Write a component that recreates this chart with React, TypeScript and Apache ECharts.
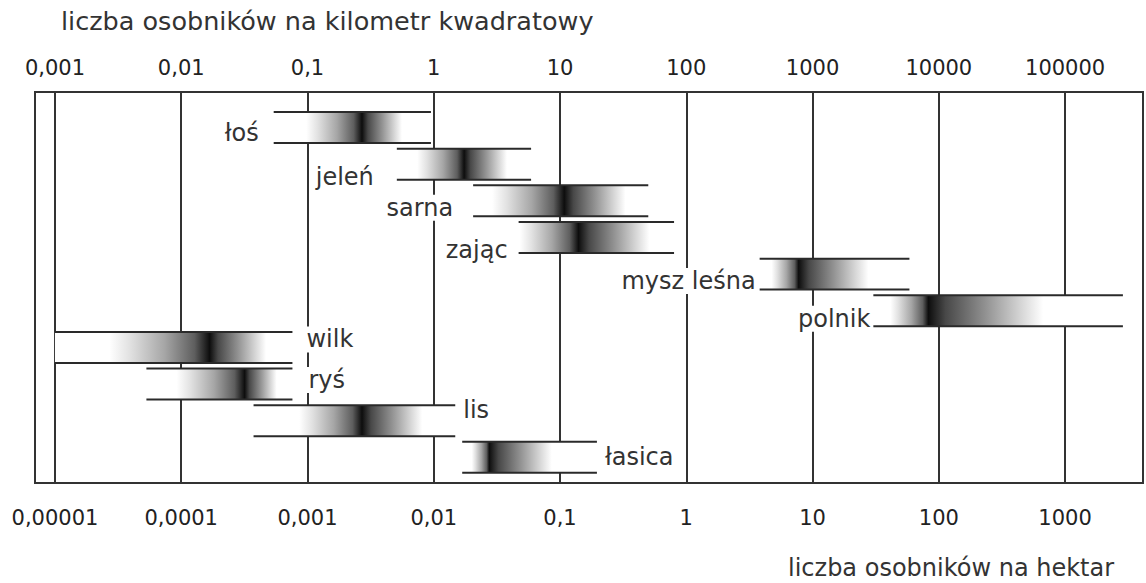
import React, { useEffect, useRef } from "react";
import * as echarts from "echarts";

// Gatunki (kolejność wierszy od góry)
const SPECIES = ["łoś", "jeleń", "sarna", "zając", "mysz leśna", "polnik", "wilk", "ryś", "lis", "łasica"];
// Zakres zagęszczenia (osobniki na km²)
const RANGE_LOW = [0.054, 0.51, 2.05, 4.7, 381, 3030, 0.001, 0.0053, 0.0374, 1.68];
const RANGE_HIGH = [0.95, 5.9, 50, 80, 5850, 287000, 0.076, 0.076, 1.48, 19.6];
// Najczęstsze zagęszczenie (najciemniejsze miejsce)
const PEAK = [0.27, 1.74, 10.8, 14, 775, 8260, 0.0168, 0.0318, 0.27, 2.75];
// Zasięg cieniowania
const SHADE_LOW = [0.098, 0.74, 2.9, 4.8, 474, 4140, 0.0027, 0.0092, 0.086, 2.0];
const SHADE_HIGH = [0.56, 3.8, 33, 51, 2770, 67000, 0.047, 0.057, 0.81, 8.6];

const TOP_TICKS = ["0,001", "0,01", "0,1", "1", "10", "100", "1000", "10000", "100000"];
const BOTTOM_TICKS = ["0,00001", "0,0001", "0,001", "0,01", "0,1", "1", "10", "100", "1000"];
const TOP_TITLE = "liczba osobników na kilometr kwadratowy";
const BOTTOM_TITLE = "liczba osobników na hektar";

// label layout (not data)
const LABEL_SIDE = ["left", "left", "left", "left", "left", "left", "right", "right", "right", "right"];
const LABEL_GAP = [13, 21, 18, 9, 2, 1, 12, 14, 6, 6];
const LABEL_DY = [5, 13, 7, 13, 7, 8, -8, -4, -11, 0];

const FONT = "DejaVu Sans";

export default function App() {
  const ref = useRef<HTMLDivElement>(null);
  useEffect(() => {
    if (!ref.current) return;
    const chart = echarts.init(ref.current, undefined, { renderer: "svg" });
    const data = SPECIES.map((_, i) => [RANGE_LOW[i], RANGE_HIGH[i], PEAK[i], SHADE_LOW[i], SHADE_HIGH[i], i]);

    const topFmt = (v: number) => {
      const l = Math.log10(v);
      const e = Math.round(l);
      if (Math.abs(l - e) > 0.01) return "";
      return TOP_TICKS[e + 3] ?? "";
    };
    const botFmt = (v: number) => {
      const l = Math.log10(v);
      const e = Math.round(l);
      if (Math.abs(l - e) > 0.01) return "";
      return BOTTOM_TICKS[e + 5] ?? "";
    };

    const renderItem = (params: any, api: any) => {
      const i = params.dataIndex;
      const low = api.value(0);
      const high = api.value(1);
      const peak = api.value(2);
      const sL = api.value(3);
      const sH = api.value(4);
      const row = api.value(5);
      const x0 = api.coord([low, row])[0];
      const x1 = api.coord([high, row])[0];
      const yc = api.coord([low, row])[1];
      const yTop = api.coord([low, row - 0.4225])[1];
      const yBot = api.coord([low, row + 0.4225])[1];
      const w = x1 - x0;
      const r = (v: number) => Math.min(1, Math.max(0, (api.coord([v, row])[0] - x0) / w));
      const a = r(sL);
      const p = r(peak);
      const b = r(sH);
      const stops = [
        { offset: 0, color: "#ffffff" },
        { offset: a, color: "#ffffff" },
        { offset: a + 0.2 * (p - a), color: "#e2e2e2" },
        { offset: a + 0.55 * (p - a), color: "#a6a6a6" },
        { offset: a + 0.85 * (p - a), color: "#5e5e5e" },
        { offset: p, color: "#0d0d0d" },
        { offset: p + 0.15 * (b - p), color: "#484848" },
        { offset: p + 0.5 * (b - p), color: "#929292" },
        { offset: p + 0.8 * (b - p), color: "#d4d4d4" },
        { offset: b, color: "#ffffff" },
        { offset: 1, color: "#ffffff" },
      ];
      const side = LABEL_SIDE[i];
      const tx = side === "left" ? x0 - LABEL_GAP[i] : x1 + LABEL_GAP[i];
      return {
        type: "group",
        children: [
          {
            type: "rect",
            shape: { x: x0, y: Math.min(yTop, yBot), width: w, height: Math.abs(yBot - yTop) },
            style: { fill: new echarts.graphic.LinearGradient(0, 0, 1, 0, stops) },
          },
          {
            type: "line",
            shape: { x1: x0, y1: yTop, x2: x1, y2: yTop },
            style: { stroke: "#2a2a2a", lineWidth: 2 },
          },
          {
            type: "line",
            shape: { x1: x0, y1: yBot, x2: x1, y2: yBot },
            style: { stroke: "#2a2a2a", lineWidth: 2 },
          },
          {
            type: "text",
            x: tx,
            y: yc + LABEL_DY[i],
            style: {
              text: SPECIES[i],
              fontFamily: FONT,
              fontSize: 24,
              fill: "#333",
              align: side === "left" ? "right" : "left",
              verticalAlign: "middle",
              backgroundColor: "#ffffff",
              padding: [1, 2],
            },
          },
        ],
      };
    };

    const axisText = { fontFamily: FONT, fontSize: 21, color: "#222" };

    chart.setOption({
      animation: false,
      backgroundColor: "#ffffff",
      title: [
        {
          text: TOP_TITLE,
          left: 56,
          top: 3,
          textStyle: { fontFamily: FONT, fontSize: 25.5, fontWeight: "normal", color: "#333" },
        },
        {
          text: BOTTOM_TITLE,
          left: 783,
          top: 551,
          textStyle: { fontFamily: FONT, fontSize: 24, fontWeight: "normal", color: "#333" },
        },
      ],
      grid: {
        left: 35,
        right: 1,
        top: 92,
        bottom: 100,
        show: true,
        borderColor: "#333",
        borderWidth: 2,
        backgroundColor: "transparent",
      },
      xAxis: [
        {
          type: "log",
          logBase: 10,
          min: Math.pow(10, -3.158),
          max: Math.pow(10, 5.617),
          position: "top",
          axisLine: { show: false },
          axisTick: { show: false },
          splitLine: { show: true, lineStyle: { color: "#333", width: 2 } },
          axisLabel: { ...axisText, formatter: topFmt, margin: 14, interval: 0 },
        },
        {
          type: "log",
          logBase: 10,
          min: Math.pow(10, -5.158),
          max: Math.pow(10, 3.617),
          position: "bottom",
          axisLine: { show: false },
          axisTick: { show: false },
          splitLine: { show: false },
          axisLabel: { ...axisText, formatter: botFmt, margin: 24, interval: 0 },
        },
      ],
      yAxis: { type: "value", inverse: true, min: -0.97, max: 9.7, show: false },
      series: [
        {
          type: "custom",
          xAxisIndex: 0,
          yAxisIndex: 0,
          renderItem,
          data,
          encode: { x: [0, 1, 2, 3, 4], y: 5 },
          clip: false,
        },
      ],
    });
    return () => chart.dispose();
  }, []);
  return <div ref={ref} style={{ position: "fixed", left: 0, top: 0, width: 1146, height: 583 }} />;
}
